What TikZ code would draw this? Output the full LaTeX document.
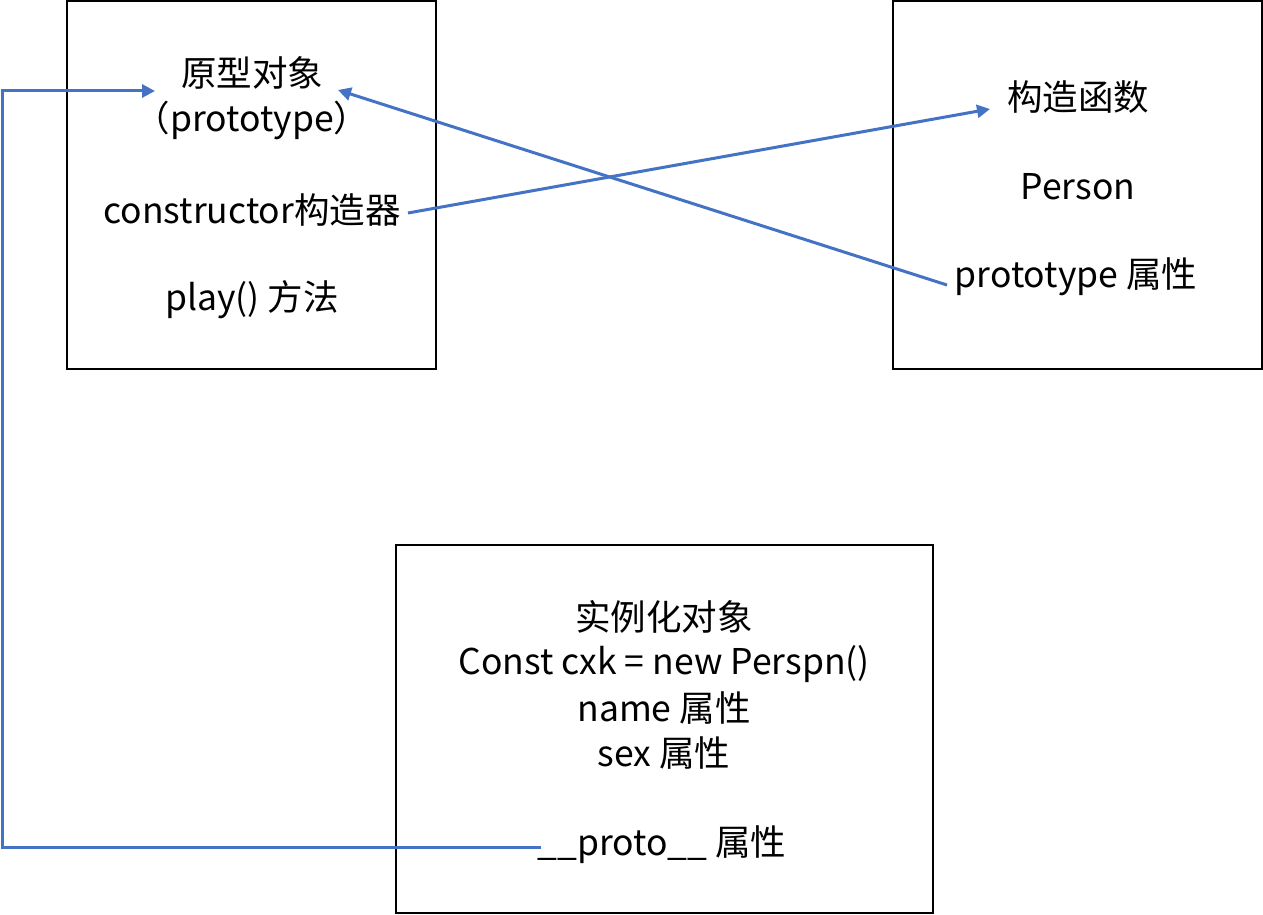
\documentclass[tikz,border=0pt]{standalone}
\usepackage{fontspec}
\setmainfont{Noto Sans CJK SC}
\usetikzlibrary{arrows.meta}
\definecolor{arrowblue}{HTML}{4472C4}
\tikzset{
  box/.style={draw=black, line width=2pt},
  txt/.style={inner sep=0pt, font=\fontsize{35.5}{42}\selectfont, text=black},
  conn/.style={draw=arrowblue, line width=3pt, line join=miter, -{Triangle[length=13pt,width=13pt]}},
}
\begin{document}
\begin{tikzpicture}[x=1pt,y=-1pt]
\useasboundingbox (0,0) rectangle (1263,915);
\fill[white] (0,0) rectangle (1263,915);
% boxes
\draw[box] (67,1) rectangle (436,369);
\draw[box] (893,1) rectangle (1262,369);
\draw[box] (396,545) rectangle (933,913);
% left box texts
\node[txt] (proto) at (252,73) {原型对象};
\node[txt] (protoen) at (252,120) {（prototype）};
\node[txt] (ctor) at (252,210) {constructor构造器};
\node[txt] (play) at (252,300) {play() 方法};
% right box texts
\node[txt] (func) at (1078,97) {构造函数};
\node[txt] (person) at (1078,187) {Person};
\node[txt] (protoattr) at (1076,277) {prototype 属性};
% bottom box texts
\node[txt] (inst) at (664,617) {实例化对象};
\node[txt] (cxk) at (664,664) {Const cxk = new Perspn()};
\node[txt] (name) at (664,708) {name 属性};
\node[txt] (sex) at (664,753) {sex 属性};
\node[txt] (dproto) at (662,845) {\_\_proto\_\_ 属性};
% connector anchors
\coordinate (a1s) at (541,847);
\coordinate (a1b) at (2,847);
\coordinate (a1c) at (2,91);
\coordinate (a1e) at (155,91);
\coordinate (a2s) at (408,213);
\coordinate (a2e) at (990,109);
\coordinate (a3s) at (947,285);
\coordinate (a3e) at (338,90);
% connectors
\draw[conn] (a1s) -- (a1b) -- (a1c) -- (a1e);
\draw[conn] (a2s) -- (a2e);
\draw[conn] (a3s) -- (a3e);
\end{tikzpicture}
\end{document}
